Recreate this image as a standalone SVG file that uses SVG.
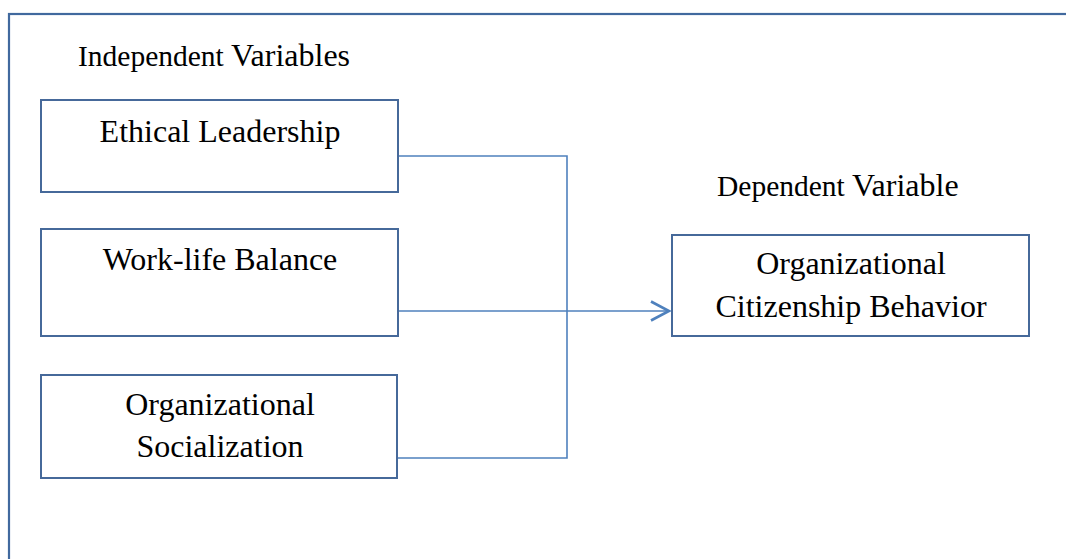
<svg xmlns="http://www.w3.org/2000/svg" width="1066" height="559" viewBox="0 0 1066 559">
<defs>
<style>
.frame{fill:none;stroke:#41699e;stroke-width:2.2}
.box{fill:#fff;stroke:#46699a;stroke-width:2}
.t{font-family:"Liberation Serif","Times New Roman",serif;fill:#000;text-anchor:middle;font-size:32px}
.lbl{font-family:"Liberation Serif","Times New Roman",serif;fill:#000}
.con{fill:none;stroke:#4f81bd;stroke-width:1.6}
</style>
<marker id="arr" markerWidth="24" markerHeight="24" refX="20" refY="11" orient="auto" markerUnits="userSpaceOnUse">
<path d="M2,1.5 L20,11 L2,20.5" fill="none" stroke="#4f81bd" stroke-width="2.6"/>
</marker>
</defs>
<rect width="1066" height="559" fill="#fff"/>
<rect class="frame" x="9" y="14" width="1080" height="560"/>
<text class="lbl" y="66"><tspan x="78" font-size="29.5">Independent</tspan><tspan x="231" font-size="32">Variables</tspan></text>
<text class="lbl" y="196"><tspan x="717" font-size="29.5">Dependent</tspan><tspan x="852" font-size="32">Variable</tspan></text>
<g id="connectors">
<polyline class="con" points="398,156 567,156 567,458 398,458"/>
<line class="con" x1="398" y1="311" x2="567" y2="311"/>
<line class="con" x1="567" y1="311" x2="669" y2="311" stroke-width="2.4" marker-end="url(#arr)"/>
</g>
<g id="ethical">
<rect class="box" x="41" y="100" width="357" height="92"/>
<text class="t" x="220" y="142">Ethical Leadership</text>
</g>
<g id="worklife">
<rect class="box" x="41" y="229" width="357" height="107"/>
<text class="t" x="220" y="270">Work-life Balance</text>
</g>
<g id="socialization">
<rect class="box" x="41" y="375" width="356" height="103"/>
<text class="t" x="220" y="415">Organizational</text>
<text class="t" x="220" y="457">Socialization</text>
</g>
<g id="ocb">
<rect class="box" x="672" y="235" width="357" height="101"/>
<text class="t" x="851" y="274">Organizational</text>
<text class="t" x="851" y="317">Citizenship Behavior</text>
</g>
</svg>
